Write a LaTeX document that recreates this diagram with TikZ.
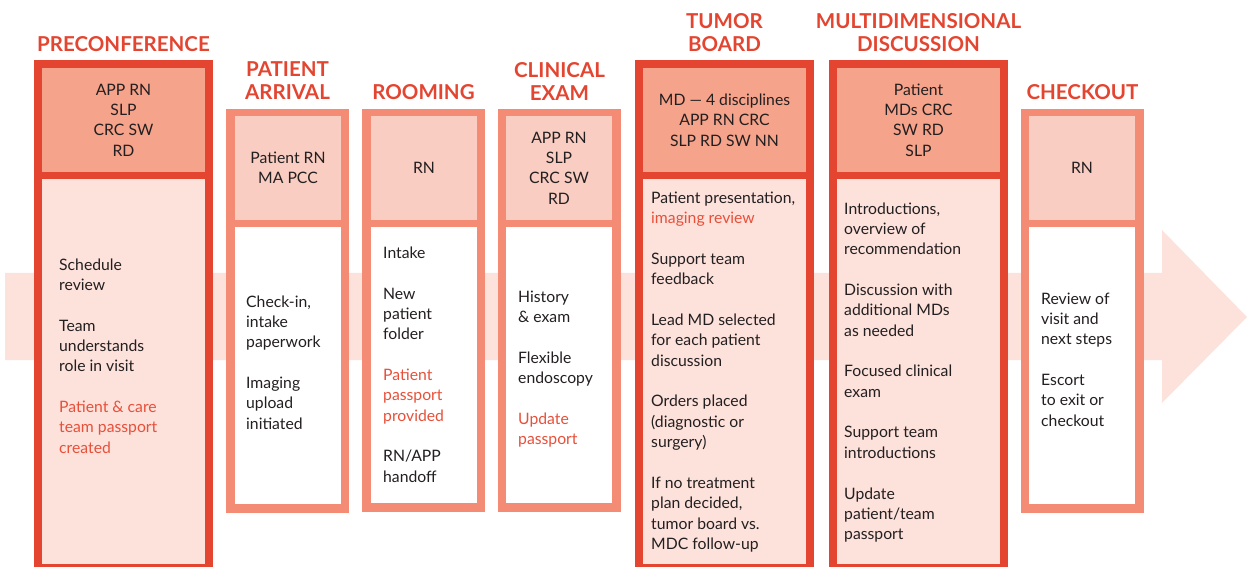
\documentclass[tikz,border=0pt]{standalone}
\usepackage{fontspec}
\setmainfont{Lato}
\usepackage{tikz}

\definecolor{hotframe}{HTML}{E34530}
\definecolor{hothead}{HTML}{F5A38A}
\definecolor{hotbody}{HTML}{FDE1DB}
\definecolor{softframe}{HTML}{F48B74}
\definecolor{softhead}{HTML}{F9CDC1}
\definecolor{flowfill}{HTML}{FDE2DC}
\definecolor{ink}{HTML}{231F20}
\definecolor{accent}{HTML}{E8503A}

\newcommand{\accenttext}[1]{\textcolor{accent}{#1}}
\newcommand{\skipline}{\\[20.4bp]}

\begin{document}
\begin{tikzpicture}[x=1bp, y=-1bp,
    stagetitle/.style={font=\fontsize{20.6}{23}\selectfont\bfseries, text=hotframe, align=center, inner sep=0pt},
    teamtext/.style={font=\fontsize{15.8}{20.4}\selectfont, text=ink, align=center, inner sep=0pt, outer sep=0pt},
    tasktext/.style={font=\fontsize{15.8}{20.4}\selectfont, text=ink, align=left, anchor=west, inner sep=0pt}]
    \useasboundingbox (0,0) rectangle (1247,568);

    % the flow arrow behind all stages
    \fill [flowfill] (5,273) -- (1162,273) -- (1162,230) -- (1247,317) -- (1162,403) -- (1162,360) -- (5,360) -- cycle;

    % preconference
    \fill [hotframe] (34,60) rectangle (213,567);
    \node [teamtext, fill=hothead, minimum width=163bp, minimum height=104bp] (preTeam) at (123.5,120) {APP RN\\SLP\\CRC SW\\RD};
    \fill [hotbody] (42,179) rectangle (205,564);
    \node [tasktext] (preTasks) at (59,356) {Schedule\\review\skipline Team\\understands\\role in visit\skipline
        \accenttext{Patient \& care}\\\accenttext{team passport}\\\accenttext{created}};
    \node [stagetitle] (preTitle) at (123.5,44.5) {PRECONFERENCE};

    % patient arrival
    \fill [softframe] (226,109) rectangle (349,513);
    \node [teamtext, fill=softhead, minimum width=106bp, minimum height=104bp] (arrTeam) at (288,168) {Patient RN\\MA PCC};
    \fill [white] (235,227) rectangle (341,504);
    \node [tasktext] (arrTasks) at (246,362.5) {Check-in,\\intake\\paperwork\skipline Imaging\\upload\\initiated};
    \node [stagetitle] (arrTitle) at (287.5,81) {PATIENT\\ARRIVAL};

    % rooming
    \fill [softframe] (362,109) rectangle (485,512);
    \node [teamtext, fill=softhead, minimum width=106bp, minimum height=104bp] (roomTeam) at (424,168) {RN};
    \fill [white] (371,227) rectangle (477,503);
    \node [tasktext] (roomTasks) at (383,364.5) {Intake\skipline New\\patient\\folder\skipline
        \accenttext{Patient}\\\accenttext{passport}\\\accenttext{provided}\skipline RN/APP\\handoff};
    \node [stagetitle] (roomTitle) at (423.5,92.5) {ROOMING};

    % clinical exam
    \fill [softframe] (498,109) rectangle (621,512);
    \node [teamtext, fill=softhead, minimum width=106bp, minimum height=104bp] (examTeam) at (559,168) {APP RN\\SLP\\CRC SW\\RD};
    \fill [white] (506,227) rectangle (612,503);
    \node [tasktext] (examTasks) at (518,369) {History\\\& exam\skipline Flexible\\endoscopy\skipline
        \accenttext{Update}\\\accenttext{passport}};
    \node [stagetitle] (examTitle) at (559.5,81.5) {CLINICAL\\EXAM};

    % tumor board
    \fill [hotframe] (635,60) rectangle (814,567);
    \node [teamtext, fill=hothead, minimum width=163bp, minimum height=104bp] (tumorTeam) at (724.5,120) {MD — 4 disciplines\\APP RN CRC\\SLP RD SW NN};
    \fill [hotbody] (643,179) rectangle (806,564);
    \node [tasktext] (tumorTasks) at (651,372) {Patient presentation,\\\accenttext{imaging review}\skipline
        Support team\\feedback\skipline Lead MD selected\\for each patient\\discussion\skipline
        Orders placed\\(diagnostic or\\surgery)\skipline If no treatment\\plan decided,\\tumor board vs.\\MDC follow-up};
    \node [stagetitle] (tumorTitle) at (724.5,33) {TUMOR\\BOARD};

    % multidimensional discussion
    \fill [hotframe] (829,60) rectangle (1008,567);
    \node [teamtext, fill=hothead, minimum width=163bp, minimum height=104bp] (mdcTeam) at (918.5,120) {Patient\\MDs CRC\\SW RD\\SLP};
    \fill [hotbody] (837,179) rectangle (1000,564);
    \node [tasktext] (mdcTasks) at (844,372.5) {Introductions,\\overview of\\recommendation\skipline
        Discussion with\\additional MDs\\as needed\skipline Focused clinical\\exam\skipline
        Support team\\introductions\skipline Update\\patient/team\\passport};
    \node [stagetitle] (mdcTitle) at (918.5,33) {MULTIDIMENSIONAL\\DISCUSSION};

    % checkout
    \fill [softframe] (1021,109) rectangle (1144,513);
    \node [teamtext, fill=softhead, minimum width=106bp, minimum height=104bp] (outTeam) at (1082,168) {RN};
    \fill [white] (1029,227) rectangle (1135,504);
    \node [tasktext] (outTasks) at (1041,359.5) {Review of\\visit and\\next steps\skipline Escort\\to exit or\\checkout};
    \node [stagetitle] (outTitle) at (1082.5,92.5) {CHECKOUT};
\end{tikzpicture}
\end{document}
